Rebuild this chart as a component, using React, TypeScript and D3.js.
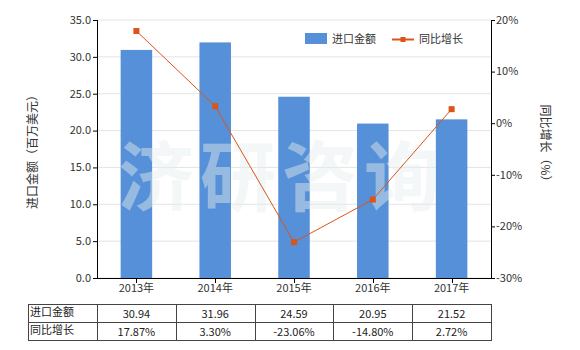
import React from "react";
import * as d3 from "d3";

const categories = ["2013年", "2014年", "2015年", "2016年", "2017年"];
const importValues = [30.94, 31.96, 24.59, 20.95, 21.52];
const growthValues = [17.87, 3.3, -23.06, -14.8, 2.72];
const importLabels = ["30.94", "31.96", "24.59", "20.95", "21.52"];
const growthLabels = ["17.87%", "3.30%", "-23.06%", "-14.80%", "2.72%"];
const leftTicks = [0, 5, 10, 15, 20, 25, 30, 35];
const rightTicks = [-30, -20, -10, 0, 10, 20];
const seriesNames = ["进口金额", "同比增长"];

const W = 580, H = 350;
const left = 97, right = 491, top = 20, bottom = 278;
const FONT = "'Noto Sans CJK SC', 'Noto Sans', sans-serif";
const BAR = "#5590d8";
const LINE = "#dc5518";

export default function App() {
  const x = d3.scaleBand<string>().domain(categories).range([left, right]).paddingInner(0.6).paddingOuter(0.3);
  const step = x.step();
  const cx = (c: string) => (x(c) as number) + x.bandwidth() / 2;
  const yL = d3.scaleLinear().domain([0, 35]).range([bottom, top]);
  const yR = d3.scaleLinear().domain([-30, 20]).range([bottom, top]);
  const line = d3.line<number>().x((_, i) => cx(categories[i])).y((d) => yR(d));
  const rowTop = 304, rowH = 18, tableLeft = 28;
  const colX = (i: number) => left + i * step;

  return (
    <svg width={W} height={H} style={{ display: "block", position: "absolute", left: 0, top: 0 }} fontFamily={FONT}>
      <rect x={0} y={0} width={W} height={H} fill="#fff" />
      {leftTicks.map((t) => (
        <line key={"g" + t} x1={left} x2={right} y1={yL(t)} y2={yL(t)} stroke="#e4e4e4" strokeWidth={1} />
      ))}
      {categories.map((c, i) => (
        <rect key={c} x={x(c)} y={yL(importValues[i])} width={x.bandwidth()} height={bottom - yL(importValues[i])} fill={BAR} />
      ))}
      <text x={(left + right) / 2 - 12} y={205} textAnchor="middle" fontSize={76} fontWeight="bold" fill="#e8eeee" opacity={0.45} letterSpacing={6}>
        济研咨询
      </text>
      {/* left axis */}
      <line x1={left + 0.5} x2={left + 0.5} y1={top} y2={bottom} stroke="#000" />
      {leftTicks.map((t) => (
        <g key={"l" + t}>
          <line x1={left - 4} x2={left} y1={yL(t) + 0.5} y2={yL(t) + 0.5} stroke="#000" />
          <text x={left - 6} y={yL(t)} dy="0.35em" textAnchor="end" fontSize={11} fill="#333">{t.toFixed(1)}</text>
        </g>
      ))}
      {/* right axis */}
      <line x1={right + 0.5} x2={right + 0.5} y1={top} y2={bottom} stroke="#000" />
      {rightTicks.map((t) => (
        <g key={"r" + t}>
          <line x1={right} x2={right + 4} y1={yR(t) + 0.5} y2={yR(t) + 0.5} stroke="#000" />
          <text x={right + 5} y={yR(t)} dy="0.35em" textAnchor="start" fontSize={11} fill="#333">{t + "%"}</text>
        </g>
      ))}
      {/* bottom axis */}
      <line x1={left} x2={right + 1} y1={bottom + 0.5} y2={bottom + 0.5} stroke="#000" />
      {categories.map((c) => (
        <g key={"x" + c}>
          <line x1={Math.round(cx(c)) + 0.5} x2={Math.round(cx(c)) + 0.5} y1={bottom} y2={bottom + 5} stroke="#000" />
          <text x={cx(c)} y={292} textAnchor="middle" fontSize={11} fill="#333">{c}</text>
        </g>
      ))}
      {/* line series */}
      <path d={line(growthValues) || ""} fill="none" stroke={LINE} strokeWidth={1} />
      {growthValues.map((v, i) => (
        <rect key={"m" + i} x={cx(categories[i]) - 3} y={yR(v) - 3} width={6} height={6} fill={LINE} />
      ))}
      {/* axis titles */}
      <text transform={`translate(37,${(top + bottom) / 2}) rotate(-90)`} textAnchor="middle" fontSize={12} fill="#333">
        进口金额（百万美元）
      </text>
      <text transform={`translate(541,${(top + bottom) / 2 - 3}) rotate(90)`} textAnchor="middle" fontSize={12} fill="#333">
        同比增长（%）
      </text>
      {/* legend */}
      <rect x={305} y={33} width={22} height={11} fill={BAR} />
      <text x={332} y={39} dy="0.35em" fontSize={11} fill="#333">{seriesNames[0]}</text>
      <line x1={392} x2={414} y1={39.5} y2={39.5} stroke={LINE} strokeWidth={2} />
      <rect x={400.5} y={37} width={5} height={5} fill={LINE} />
      <text x={419} y={39} dy="0.35em" fontSize={11} fill="#333">{seriesNames[1]}</text>
      {/* table */}
      <g stroke="#444" strokeWidth={1} fill="none">
        <rect x={tableLeft + 0.5} y={rowTop + 0.5} width={right - tableLeft} height={rowH * 2} />
        <line x1={tableLeft} x2={right + 1} y1={rowTop + rowH + 0.5} y2={rowTop + rowH + 0.5} />
        {categories.map((_, i) => (
          <line key={"c" + i} x1={Math.round(colX(i)) + 0.5} x2={Math.round(colX(i)) + 0.5} y1={rowTop} y2={rowTop + rowH * 2} />
        ))}
      </g>
      <text x={tableLeft + 2} y={rowTop + 8} dy="0.35em" fontSize={11} fill="#222">{seriesNames[0]}</text>
      <text x={tableLeft + 2} y={rowTop + rowH + 8} dy="0.35em" fontSize={11} fill="#222">{seriesNames[1]}</text>
      {categories.map((c, i) => (
        <g key={"t" + c}>
          <text x={cx(c)} y={rowTop + 10} dy="0.35em" textAnchor="middle" fontSize={11} fill="#222">{importLabels[i]}</text>
          <text x={cx(c)} y={rowTop + rowH + 10} dy="0.35em" textAnchor="middle" fontSize={11} fill="#222">{growthLabels[i]}</text>
        </g>
      ))}
    </svg>
  );
}
